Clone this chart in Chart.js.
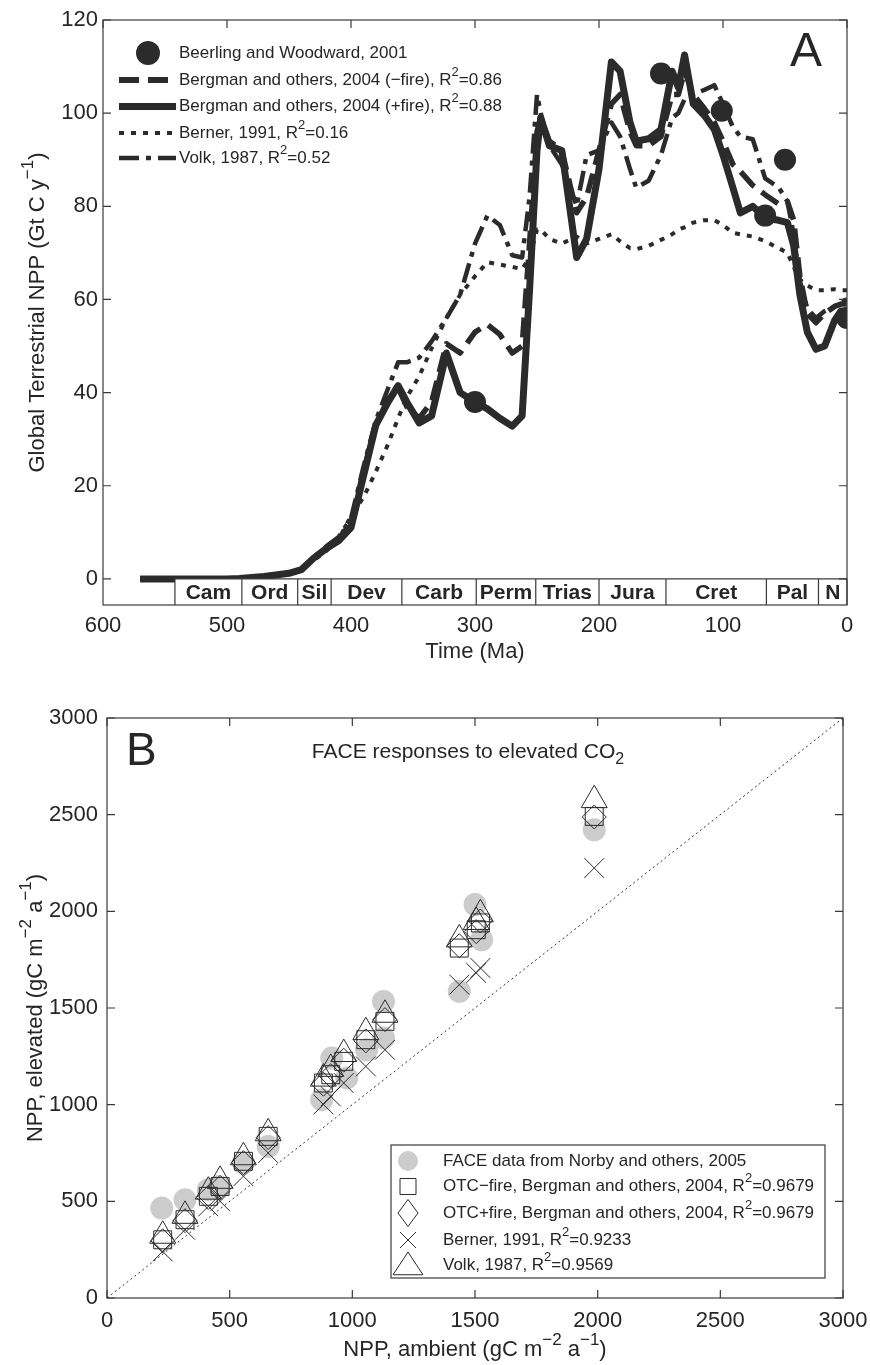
<!DOCTYPE html>
<html>
<head>
<meta charset="utf-8">
<script src="https://cdn.jsdelivr.net/npm/chart.js@4.4.0/dist/chart.umd.min.js"></script>
<style>
  body { margin: 0; background: #fff; }
  canvas { position: absolute; left: 0; }
  #chartA { top: 0; }
  #chartB { top: 660px; }
</style>
</head>
<body>
<canvas id="chartA" width="870" height="680"></canvas>
<canvas id="chartB" width="870" height="705"></canvas>
<script>
// ---- panel A: global terrestrial NPP through the Phanerozoic ----
const timeMa = [570, 540, 500, 490, 470, 450, 440, 430, 420, 410,
                400, 390, 380, 370, 362, 355, 345, 335, 323, 312,
                300, 290, 280, 270, 262, 256, 250, 247, 240, 230,
                218, 210, 200, 190, 183, 175, 170, 160, 150, 141,
                136, 131, 124, 115, 107, 100, 92, 86, 76, 66,
                55, 48, 43, 38, 32, 25, 18, 10, 5, 0];
const fireOff = [0, 0, 0, 0.1, 0.5, 1.2, 2, 4.5, 6.5, 8.5,
                 12, 23, 33, 38.5, 41, 37, 34.5, 38, 50.5, 48.5,
                 53, 54.6, 52.5, 48.5, 50, 72, 96, 99, 94, 92,
                 78.6, 82, 92, 102, 104, 96, 93, 93, 95, 104,
                 104, 109, 104, 101, 98, 94, 89, 87.5, 84.5, 82.5,
                 80.5, 81, 77, 65, 57, 55, 57, 58.5, 59, 59];
const fireOn = [0, 0, 0, 0.1, 0.5, 1.2, 2, 4.5, 6.5, 8.2,
                11, 22, 33, 38, 41.5, 38, 33.5, 35, 48.5, 40,
                38, 36.5, 34.5, 32.8, 35, 62, 92, 99, 93, 92,
                69, 73, 88, 111, 109, 98, 94, 94.5, 96.5, 109,
                105.5, 112.5, 102, 99.5, 96.5, 91, 84, 78.6, 80, 77.5,
                77, 76.5, 71.5, 61, 53, 49.3, 50, 55.5, 57.5, 57.5];
const berner = [0, 0, 0, 0.1, 0.5, 1.2, 2, 4, 6, 8.5,
                13.5, 17.5, 23, 29, 34.5, 39, 43.5, 49.5, 56, 61,
                65, 68, 67.5, 67, 66.5, 69, 75, 75, 73, 72,
                73.5, 72, 73, 74, 72.5, 71, 70.8, 71.5, 72.8, 74,
                75, 75.5, 76.5, 77, 77, 76, 74.3, 74, 73.5, 72.5,
                71, 70, 67, 64.3, 63, 62, 62, 62.2, 62, 62];
const volk = [0, 0, 0, 0.1, 0.5, 1.2, 2, 4.5, 7, 9,
              13, 24, 34, 41, 46.5, 46.5, 47.5, 51, 56, 61,
              72, 78, 76, 69.5, 69, 82, 104, 100, 93, 89,
              80, 91, 92, 98, 95, 88, 84, 85.5, 91, 99,
              100, 103, 104, 105, 106, 102, 97, 95, 94.4, 86,
              84, 81, 74, 64, 58, 56, 57.5, 58.5, 59.5, 60];
const beerlingMa = [300, 150, 101, 66, 50, 0];
const beerlingNpp = [38, 108.5, 100.5, 78, 90, 56];
const timeTicks = [600, 500, 400, 300, 200, 100, 0];
const nppTicks = [0, 20, 40, 60, 80, 100, 120];
const periodNames = ['Cam', 'Ord', 'Sil', 'Dev', 'Carb', 'Perm', 'Trias', 'Jura', 'Cret', 'Pal', 'N'];
const periodBounds = [542, 488, 443, 416, 359, 299, 251, 200, 146, 65, 23, 0];

// ---- panel B: FACE responses to elevated CO2 ----
const siteAmbient = [227, 318, 413, 461, 556, 657, 882, 912, 965, 1055, 1133, 1436, 1505, 1522, 1986];
const otcMinusFire = [301, 405, 526, 577, 707, 836, 1112, 1155, 1224, 1336, 1431, 1810, 1905, 1940, 2491];
const otcPlusFire = [296, 400, 520, 572, 700, 830, 1106, 1150, 1230, 1330, 1440, 1822, 1895, 1950, 2488];
const bernerB = [241, 353, 474, 500, 630, 750, 1001, 1043, 1112, 1198, 1284, 1621, 1681, 1707, 2224];
const volkB = [322, 425, 550, 606, 728, 852, 1135, 1185, 1262, 1375, 1465, 1855, 1945, 1985, 2575];
const faceAmbient = [223, 318, 413, 454, 556, 657, 875, 916, 977, 1058, 1127, 1127, 1436, 1500, 1527, 1986];
const faceElevated = [465, 508, 560, 577, 698, 784, 1026, 1241, 1138, 1284, 1345, 1534, 1586, 2035, 1853, 2422];
const oneToOne = [0, 3000];
const nppBTicks = [0, 500, 1000, 1500, 2000, 2500, 3000];

const FONT = '"Liberation Sans", Arial, Helvetica, sans-serif';
const INK = '#2b2b2b';
const AXIS = '#3a3a3a';
const TEXT = '#262626';
const TICK = 8;

function pts(xs, ys) {
  return xs.map((v, i) => ({ x: v, y: ys[i] }));
}

// text with ^{..} and _{..} pieces
function parseRich(str) {
  const parts = [];
  const re = /([\^_])\{([^}]*)\}/g;
  let last = 0, m;
  while ((m = re.exec(str))) {
    if (m.index > last) parts.push({ t: str.slice(last, m.index), k: '' });
    parts.push({ t: m[2], k: m[1] });
    last = re.lastIndex;
  }
  if (last < str.length) parts.push({ t: str.slice(last), k: '' });
  return parts;
}

function drawRich(ctx, str, x, y, size, align) {
  const parts = parseRich(str);
  const small = Math.round(size * 0.75);
  let w = 0;
  parts.forEach(p => {
    ctx.font = (p.k ? small : size) + 'px ' + FONT;
    p.w = ctx.measureText(p.t).width;
    w += p.w;
  });
  let cx = align === 'center' ? x - w / 2 : align === 'right' ? x - w : x;
  ctx.textAlign = 'left';
  ctx.textBaseline = 'middle';
  ctx.fillStyle = TEXT;
  parts.forEach(p => {
    ctx.font = (p.k ? small : size) + 'px ' + FONT;
    const dy = p.k === '^' ? -size * 0.45 : p.k === '_' ? size * 0.34 : 0;
    ctx.fillText(p.t, cx, y + dy);
    cx += p.w;
  });
}

function drawMarker(ctx, style, x, y, r) {
  ctx.beginPath();
  if (style === 'circle') {
    ctx.arc(x, y, r, 0, Math.PI * 2);
    ctx.fill();
    return;
  }
  if (style === 'rect') {
    ctx.rect(x - r, y - r, 2 * r, 2 * r);
  } else if (style === 'rectRot') {
    ctx.moveTo(x, y - r * 1.35); ctx.lineTo(x + r, y); ctx.lineTo(x, y + r * 1.35); ctx.lineTo(x - r, y); ctx.closePath();
  } else if (style === 'crossRot') {
    ctx.moveTo(x - r, y - r); ctx.lineTo(x + r, y + r);
    ctx.moveTo(x + r, y - r); ctx.lineTo(x - r, y + r);
  } else if (style === 'triangle') {
    ctx.moveTo(x, y - r); ctx.lineTo(x + r * 1.15, y + r * 0.75); ctx.lineTo(x - r * 1.15, y + r * 0.75); ctx.closePath();
  }
  ctx.stroke();
}

// box round the plot with inward tick marks
const frameTicks = {
  id: 'frameTicks',
  afterDraw(chart, args, opts) {
    const { ctx, chartArea: a, scales: { x, y } } = chart;
    ctx.save();
    ctx.strokeStyle = AXIS;
    ctx.lineWidth = 1.2;
    ctx.strokeRect(a.left, a.top, a.right - a.left, a.bottom - a.top);
    ctx.beginPath();
    x.ticks.forEach(t => {
      const px = x.getPixelForValue(t.value);
      if (opts.top) { ctx.moveTo(px, a.top); ctx.lineTo(px, a.top + TICK); }
      if (opts.bottom) { ctx.moveTo(px, a.bottom); ctx.lineTo(px, a.bottom - TICK); }
    });
    y.ticks.forEach(t => {
      const py = y.getPixelForValue(t.value);
      ctx.moveTo(a.left, py); ctx.lineTo(a.left + TICK, py);
      ctx.moveTo(a.right, py); ctx.lineTo(a.right - TICK, py);
    });
    ctx.stroke();
    ctx.restore();
  }
};

const panelA = {
  id: 'panelA',
  afterDatasetsDraw(chart) {
    const { ctx, chartArea: a, scales: { x, y } } = chart;
    const y0 = y.getPixelForValue(0);
    const xs = periodBounds.map(v => x.getPixelForValue(v));
    ctx.save();
    ctx.fillStyle = '#fff';
    ctx.fillRect(xs[0], y0, xs[xs.length - 1] - xs[0], a.bottom - y0);
    ctx.strokeStyle = AXIS;
    ctx.lineWidth = 1.2;
    ctx.beginPath();
    ctx.moveTo(xs[0], y0); ctx.lineTo(xs[xs.length - 1], y0);
    xs.forEach(px => { ctx.moveTo(px, y0); ctx.lineTo(px, a.bottom); });
    ctx.stroke();
    ctx.fillStyle = TEXT;
    ctx.font = 'bold 21px ' + FONT;
    ctx.textAlign = 'center';
    ctx.textBaseline = 'middle';
    periodNames.forEach((n, i) => {
      ctx.fillText(n, (xs[i] + xs[i + 1]) / 2, (y0 + a.bottom) / 2 + 1);
    });
    ctx.restore();
  },
  afterDraw(chart) {
    const { ctx, chartArea: a } = chart;
    ctx.save();
    // legend
    const ds = chart.data.datasets;
    const rows = [33, 60, 86.5, 113, 138];
    ds.forEach((d, i) => {
      const ry = a.top + rows[i];
      ctx.strokeStyle = INK;
      ctx.fillStyle = INK;
      if (d.showLine === false) {
        drawMarker(ctx, 'circle', a.left + 45, ry, 12);
      } else {
        ctx.lineWidth = d.legendWidth;
        ctx.setLineDash(d.borderDash || []);
        ctx.beginPath();
        ctx.moveTo(a.left + 16, ry); ctx.lineTo(a.left + 73, ry);
        ctx.stroke();
        ctx.setLineDash([]);
      }
      drawRich(ctx, d.label, a.left + 76, ry, 17, 'left');
    });
    ctx.fillStyle = TEXT;
    ctx.font = '48px ' + FONT;
    ctx.textAlign = 'center';
    ctx.textBaseline = 'middle';
    ctx.fillText('A', 806, 53);
    // axis titles
    drawRich(ctx, 'Time (Ma)', (a.left + a.right) / 2, 652, 22, 'center');
    ctx.translate(38, (a.top + a.bottom) / 2);
    ctx.rotate(-Math.PI / 2);
    drawRich(ctx, 'Global Terrestrial NPP (Gt C y^{−1})', 0, 0, 22, 'center');
    ctx.restore();
  }
};

const lineSet = (label, ys, width, dash, order, legendWidth) => ({
  label, data: pts(timeMa, ys), showLine: true, borderColor: INK, borderWidth: width,
  borderDash: dash, pointRadius: 0, tension: 0, order, legendWidth,
  borderCapStyle: 'butt', borderJoinStyle: 'round'
});

// keep the plot box where it is even when edge tick labels stick out
const noEdgePad = s => { s.paddingLeft = 0; s.paddingRight = 0; };

new Chart(document.getElementById('chartA').getContext('2d'), {
  type: 'scatter',
  data: {
    datasets: [
      { label: 'Beerling and Woodward, 2001', data: pts(beerlingMa, beerlingNpp), showLine: false,
        pointRadius: 11, pointBackgroundColor: INK, pointBorderWidth: 0, order: 0 },
      lineSet('Bergman and others, 2004 (−fire), R^{2}=0.86', fireOff, 5.5, [20, 9], 3, 6),
      lineSet('Bergman and others, 2004 (+fire), R^{2}=0.88', fireOn, 7, [], 1, 7),
      lineSet('Berner, 1991, R^{2}=0.16', berner, 4, [5, 7], 4, 4),
      lineSet('Volk, 1987, R^{2}=0.52', volk, 4.5, [20, 7, 5, 7], 2, 4.5)
    ]
  },
  options: {
    responsive: false,
    animation: false,
    layout: { padding: { top: 20, right: 23, left: 0, bottom: 0 } },
    plugins: { legend: { display: false }, tooltip: { enabled: false }, frameTicks: { top: true, bottom: false } },
    scales: {
      x: {
        type: 'linear', reverse: true, min: 0, max: 600,
        afterBuildTicks: s => { s.ticks = timeTicks.map(v => ({ value: v })); },
        afterFit: s => { s.height = 75; noEdgePad(s); },
        grid: { display: false, drawTicks: false }, border: { display: false },
        ticks: { font: { family: FONT, size: 22 }, color: TEXT, padding: 8, maxRotation: 0, autoSkip: false,
                 callback: v => String(v) }
      },
      y: {
        type: 'linear', min: -5.6, max: 120,
        afterBuildTicks: s => { s.ticks = nppTicks.map(v => ({ value: v })); },
        afterFit: s => { s.width = 103; },
        grid: { display: false, drawTicks: false }, border: { display: false },
        ticks: { font: { family: FONT, size: 22 }, color: TEXT, padding: 5, callback: v => String(v) }
      }
    }
  },
  plugins: [frameTicks, panelA]
});

// ---- panel B chart ----
const panelB = {
  id: 'panelB',
  afterDraw(chart) {
    const { ctx, chartArea: a } = chart;
    ctx.save();
    const bx = 391, by = 485, bw = 434, bh = 133;
    ctx.fillStyle = '#fff';
    ctx.fillRect(bx, by, bw, bh);
    ctx.strokeStyle = AXIS;
    ctx.lineWidth = 1.2;
    ctx.strokeRect(bx, by, bw, bh);
    const rows = [16, 41.5, 68, 95, 120];
    const keyed = chart.data.datasets.filter(d => d.legendStyle);
    keyed.forEach((d, i) => {
      const ry = by + rows[i];
      ctx.strokeStyle = INK;
      ctx.lineWidth = 1;
      ctx.fillStyle = d.pointBackgroundColor;
      drawMarker(ctx, d.legendStyle, bx + 17, ry, d.legendSize);
      drawRich(ctx, d.label, bx + 52, ry, 17, 'left');
    });
    ctx.fillStyle = TEXT;
    ctx.font = '46px ' + FONT;
    ctx.textAlign = 'left';
    ctx.textBaseline = 'middle';
    ctx.fillText('B', a.left + 19, a.top + 34);
    drawRich(ctx, 'FACE responses to elevated CO_{2}', 468, a.top + 34, 21, 'center');
    drawRich(ctx, 'NPP, ambient (gC m^{−2} a^{−1})', (a.left + a.right) / 2, 690, 22, 'center');
    ctx.translate(36, (a.top + a.bottom) / 2);
    ctx.rotate(-Math.PI / 2);
    drawRich(ctx, 'NPP, elevated (gC m^{−2} a^{−1})', 0, 0, 22, 'center');
    ctx.restore();
  }
};

const markerSet = (label, xs, ys, style, radius, order, legendStyle, legendSize) => ({
  label, data: pts(xs, ys), showLine: false, pointStyle: style, pointRadius: radius,
  pointBackgroundColor: 'rgba(0,0,0,0)', pointBorderColor: INK, pointBorderWidth: 1,
  order, legendStyle, legendSize
});

new Chart(document.getElementById('chartB').getContext('2d'), {
  type: 'scatter',
  data: {
    datasets: [
      { label: 'FACE data from Norby and others, 2005', data: pts(faceAmbient, faceElevated), showLine: false,
        pointStyle: 'circle', pointRadius: 11.5, pointBackgroundColor: '#cccccc', pointBorderWidth: 0,
        order: 5, legendStyle: 'circle', legendSize: 10 },
      markerSet('OTC−fire, Bergman and others, 2004, R^{2}=0.9679', siteAmbient, otcMinusFire, 'rect', 12.7, 3, 'rect', 8),
      markerSet('OTC+fire, Bergman and others, 2004, R^{2}=0.9679', siteAmbient, otcPlusFire, 'rectRot', 12, 2, 'rectRot', 10),
      markerSet('Berner, 1991, R^{2}=0.9233', siteAmbient, bernerB, 'crossRot', 14, 4, 'crossRot', 8),
      markerSet('Volk, 1987, R^{2}=0.9569', siteAmbient, volkB, 'triangle', 15, 1, 'triangle', 13),
      { label: '1:1', data: pts(oneToOne, oneToOne), showLine: true, borderColor: '#333', borderWidth: 1,
        borderDash: [2, 3], pointRadius: 0, order: 6 }
    ]
  },
  options: {
    responsive: false,
    animation: false,
    layout: { padding: { top: 58, right: 27, left: 0, bottom: 0 } },
    plugins: { legend: { display: false }, tooltip: { enabled: false }, frameTicks: { top: true, bottom: true } },
    scales: {
      x: {
        type: 'linear', min: 0, max: 3000,
        afterBuildTicks: s => { s.ticks = nppBTicks.map(v => ({ value: v })); },
        afterFit: s => { s.height = 67; noEdgePad(s); },
        grid: { display: false, drawTicks: false }, border: { display: false },
        ticks: { font: { family: FONT, size: 22 }, color: TEXT, padding: 10, maxRotation: 0, autoSkip: false,
                 callback: v => String(v) }
      },
      y: {
        type: 'linear', min: 0, max: 3000,
        afterBuildTicks: s => { s.ticks = nppBTicks.map(v => ({ value: v })); },
        afterFit: s => { s.width = 107; },
        grid: { display: false, drawTicks: false }, border: { display: false },
        ticks: { font: { family: FONT, size: 22 }, color: TEXT, padding: 9, callback: v => String(v) }
      }
    }
  },
  plugins: [frameTicks, panelB]
});
</script>
</body>
</html>
